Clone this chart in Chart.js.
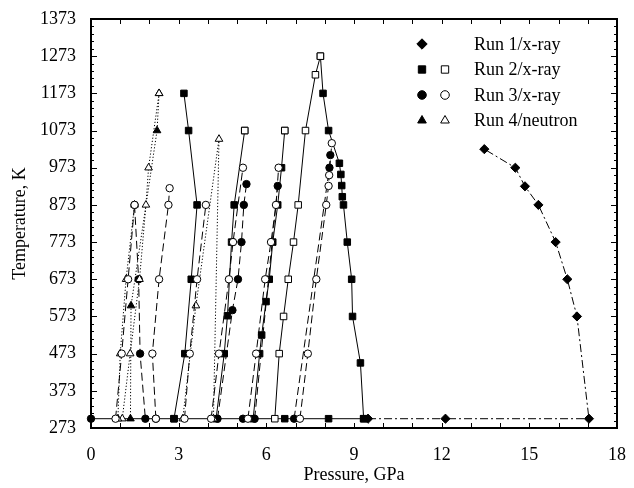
<!DOCTYPE html>
<html>
<head>
<meta charset="utf-8">
<style>
  html, body { margin: 0; padding: 0; background: #fff; }
  #wrap { width: 634px; height: 488px; }
</style>
<script src="https://cdn.jsdelivr.net/npm/chart.js"></script>
</head>
<body>
<div id="wrap"><canvas id="ptChart" width="634" height="488"></canvas></div>
<script>
// axis ticks
const xTicks = [0, 3, 6, 9, 12, 15, 18];
const yTicks = [273, 373, 473, 573, 673, 773, 873, 973, 1073, 1173, 1273, 1373];

// Run 1 / x-ray (diamonds, dash-dot)
const run1P = [9.48, 12.13, 17.04, 16.63, 16.30, 15.90, 15.31, 14.85, 14.52, 13.46];
const run1T = [298, 298, 298, 573, 673, 773, 873, 923, 973, 1023];

// room temperature compression line
const baseP = [0, 2.84, 6.63, 8.13, 9.33];
const baseT = [298, 298, 298, 298, 298];

// Run 2 / x-ray (squares, solid)
const run2aP = [2.84, 3.21, 3.43, 3.63, 3.34, 3.18];
const run2aT = [298, 473, 673, 873, 1073, 1173];
const run2bP = [4.28, 4.56, 4.67, 4.81, 4.90, 5.26];
const run2bT = [298, 473, 575, 773, 873, 1073];
const run2cP = [5.55, 5.77, 5.84, 5.99, 6.10, 6.22, 6.39, 6.52, 6.63];
const run2cT = [298, 473, 523, 613, 673, 773, 873, 973, 1073];
const run2dP = [6.29, 6.44, 6.59, 6.75, 6.93, 7.09, 7.34, 7.68, 7.85];   // open
const run2dT = [298, 473, 573, 673, 773, 873, 1073, 1223, 1273];
const run2eP = [7.85, 7.94, 8.13, 8.50, 8.55, 8.58, 8.60, 8.64, 8.77, 8.92, 8.95, 9.22, 9.33];
const run2eT = [1273, 1173, 1073, 985, 955, 925, 895, 873, 773, 673, 573, 448, 298];
const run2TopsP = [5.26, 6.63];   // open
const run2TopsT = [1073, 1073];

// Run 3 / x-ray (circles, dashed)
const run3aOpenP = [0.84, 1.05, 1.27, 1.49];
const run3aOpenT = [298, 473, 673, 873];
const run3aP = [1.49, 1.63, 1.68, 1.86];
const run3aT = [873, 673, 473, 298];
const run3bOpenP = [2.22, 2.10, 2.33, 2.65, 2.69];
const run3bOpenT = [298, 473, 673, 873, 918];
const run3cOpenP = [3.20, 3.38, 3.63, 3.93];
const run3cOpenT = [298, 473, 673, 873];
const run3dOpenP = [4.11, 4.38, 4.72, 4.86, 5.20];
const run3dOpenT = [298, 473, 673, 773, 973];
const run3dP = [4.33, 4.84, 5.03, 5.15, 5.23, 5.32];
const run3dT = [298, 590, 673, 773, 873, 929];
const run3eOpenP = [5.37, 5.65, 5.96, 6.16, 6.33, 6.42];
const run3eOpenT = [298, 473, 673, 773, 873, 973];
const run3eP = [5.60, 6.39];
const run3eT = [298, 924];
const run3fOpenP = [7.15, 7.42, 7.71, 8.05, 8.13, 8.15, 8.24];
const run3fOpenT = [298, 473, 673, 873, 924, 953, 1039];
const run3fP = [6.95, 8.16, 8.19];
const run3fT = [298, 973, 1007];
const run3BaseP = [0, 2.22, 5.20];
const run3BaseT = [298, 298, 298];

// Run 4 / neutron (triangles, dotted)
const run4aOpenP = [0.92, 1.00, 1.20, 1.49];
const run4aOpenT = [298, 473, 673, 873];
const run4bOpenP = [1.07, 1.34, 1.66, 1.88, 1.97, 2.33];
const run4bOpenT = [298, 473, 673, 873, 973, 1173];
const run4aP = [1.35, 1.37, 2.26, 2.33];
const run4aT = [298, 602, 1073, 1173];
const run4cOpenP = [3.14, 3.59, 4.38, 4.19];
const run4cOpenT = [298, 602, 1050, 298];

const legendLabels = ['Run 1/x-ray', 'Run 2/x-ray', 'Run 3/x-ray', 'Run 4/neutron'];

const FONT = "'Liberation Serif', 'Times New Roman', serif";
const MARK = {
  run1: { style: 'rectRot', r: 4.6, dash: [8, 3, 2, 3] },
  run2: { style: 'rect', r: 4.6, dash: [] },
  run3: { style: 'circle', r: 3.7, dash: [8, 4] },
  run4: { style: 'triangle', r: 4.4, dash: [1.2, 2] }
};

function series(px, ty, run, filled, opts = {}) {
  const m = MARK[run];
  return Object.assign({
    data: px.map((p, i) => ({ x: p, y: ty[i] })),
    showLine: true,
    borderColor: '#000',
    borderWidth: 1,
    borderDash: m.dash,
    pointStyle: m.style,
    pointRadius: m.r,
    pointHoverRadius: m.r,
    pointBorderColor: '#000',
    pointBorderWidth: 1,
    pointBackgroundColor: filled ? '#000' : '#fff',
    tension: 0,
    clip: false
  }, opts);
}

// open markers first so they are painted on top
const datasets = [
  series(run2TopsP, run2TopsT, 'run2', false, { showLine: false }),
  series(run2dP, run2dT, 'run2', false),
  series(run3aOpenP, run3aOpenT, 'run3', false),
  series(run3bOpenP, run3bOpenT, 'run3', false),
  series(run3cOpenP, run3cOpenT, 'run3', false),
  series(run3dOpenP, run3dOpenT, 'run3', false),
  series(run3eOpenP, run3eOpenT, 'run3', false),
  series(run3fOpenP, run3fOpenT, 'run3', false),
  series(run4aOpenP, run4aOpenT, 'run4', false),
  series(run4bOpenP, run4bOpenT, 'run4', false),
  series(run4cOpenP, run4cOpenT, 'run4', false),
  series(run3BaseP, run3BaseT, 'run3', true, { showLine: false }),
  series(run1P, run1T, 'run1', true),
  series(run2aP, run2aT, 'run2', true),
  series(run2bP, run2bT, 'run2', true),
  series(run2cP, run2cT, 'run2', true),
  series(run2eP, run2eT, 'run2', true),
  series(run3aP, run3aT, 'run3', true),
  series(run3dP, run3dT, 'run3', true),
  series(run3eP, run3eT, 'run3', true),
  series(run3fP, run3fT, 'run3', true),
  series(run4aP, run4aT, 'run4', true),
  series(baseP, baseT, 'run2', true, { pointRadius: ctx => ctx.dataIndex === 0 ? 0 : 4.6 })
];

// inward ticks on all four sides plus the frame
const framePlugin = {
  id: 'frame',
  beforeDatasetsDraw(chart) {
    const { ctx, chartArea: a, scales: { x, y } } = chart;
    ctx.save();
    ctx.strokeStyle = '#000';
    ctx.lineWidth = 1;
    ctx.beginPath();
    for (let v = 0; v <= 18; v += 1) {
      const px = Math.round(x.getPixelForValue(v)) + 0.5;
      ctx.moveTo(px, a.bottom); ctx.lineTo(px, a.bottom - 5);
      ctx.moveTo(px, a.top); ctx.lineTo(px, a.top + 5);
    }
    for (let v = 273; v <= 1373; v += 20) {
      const py = Math.round(y.getPixelForValue(v)) + 0.5;
      const len = (v - 273) % 100 === 0 ? 6 : 3;
      ctx.moveTo(a.left, py); ctx.lineTo(a.left + len, py);
      ctx.moveTo(a.right, py); ctx.lineTo(a.right - len, py);
    }
    ctx.stroke();
    ctx.lineWidth = 2;
    ctx.strokeRect(a.left, a.top, a.right - a.left, a.bottom - a.top);
    ctx.restore();
  }
};

const legendPlugin = {
  id: 'runLegend',
  afterDraw(chart) {
    const { ctx } = chart;
    const styles = [['run1'], ['run2', 'run2'], ['run3', 'run3'], ['run4', 'run4']];
    ctx.save();
    ctx.font = '18px ' + FONT;
    ctx.textBaseline = 'middle';
    legendLabels.forEach((label, i) => {
      const cy = 44 + i * 25.5;
      styles[i].forEach((run, k) => {
        const m = MARK[run];
        ctx.fillStyle = k === 0 ? '#000' : '#fff';
        ctx.strokeStyle = '#000';
        ctx.lineWidth = 1;
        Chart.helpers.drawPoint(ctx, { pointStyle: m.style, radius: m.r + 0.6, rotation: 0, borderWidth: 1 }, 422 + k * 23, cy);
      });
      ctx.fillStyle = '#000';
      ctx.fillText(label, 474, cy + 1);
    });
    ctx.restore();
  }
};

new Chart(document.getElementById('ptChart'), {
  type: 'scatter',
  data: { datasets },
  options: {
    responsive: false,
    animation: false,
    devicePixelRatio: 1,
    layout: { padding: { top: 19, right: 9, left: 0, bottom: 0 } },
    plugins: { legend: { display: false }, tooltip: { enabled: false } },
    scales: {
      x: {
        type: 'linear',
        min: 0,
        max: 18,
        afterBuildTicks: s => { s.ticks = xTicks.map(v => ({ value: v })); },
        afterFit: s => { s.height = 60; },
        grid: { display: false },
        border: { display: false },
        ticks: { color: '#000', font: { family: FONT, size: 18 }, padding: 8, maxRotation: 0, autoSkip: false, callback: v => String(v) },
        title: { display: true, text: 'Pressure, GPa', color: '#000', font: { family: FONT, size: 18 }, padding: { top: 0, bottom: 2 } }
      },
      y: {
        type: 'linear',
        min: 273,
        max: 1373,
        afterBuildTicks: s => { s.ticks = yTicks.map(v => ({ value: v })); },
        afterFit: s => { s.width = 91; },
        grid: { display: false },
        border: { display: false },
        ticks: { color: '#000', font: { family: FONT, size: 18 }, padding: 7, autoSkip: false, callback: v => String(v) },
        title: { display: true, text: 'Temperature, K', color: '#000', font: { family: FONT, size: 18 }, padding: { top: 9, bottom: 0 } }
      }
    }
  },
  plugins: [framePlugin, legendPlugin]
});
</script>
</body>
</html>
